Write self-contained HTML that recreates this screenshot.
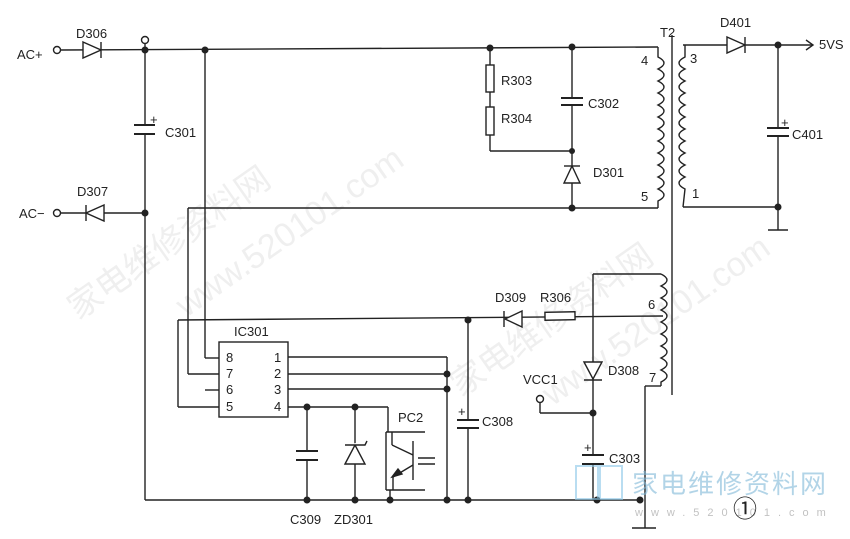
<!DOCTYPE html>
<html><head><meta charset="utf-8"><style>
html,body{margin:0;padding:0;background:#fff;}
svg{display:block;}
text{font-family:"Liberation Sans","Noto Sans CJK SC",sans-serif;fill:#222;font-size:13px;}
</style></head><body>
<svg width="850" height="539" viewBox="0 0 850 539" xmlns="http://www.w3.org/2000/svg">
<g opacity="0.13" font-size="34" transform="rotate(-35 250 200)">
<text x="40" y="200" style="font-size:34px;fill:#888">家电维修资料网</text>
<text x="130" y="260" style="font-size:34px;fill:#888">www.520101.com</text>
</g>
<g opacity="0.13" transform="rotate(-35 600 300)">
<text x="430" y="300" style="font-size:34px;fill:#888">家电维修资料网</text>
<text x="500" y="360" style="font-size:34px;fill:#888">www.520101.com</text>
</g>
<g stroke="#222" stroke-width="1.4" fill="none">
<line x1="61" y1="50" x2="658" y2="47"/>
<line x1="145" y1="44" x2="145" y2="500"/>
<line x1="205" y1="50" x2="205" y2="358"/><line x1="205" y1="358" x2="219" y2="358"/>
<line x1="188" y1="208" x2="658" y2="208"/>
<line x1="188" y1="208" x2="188" y2="374"/><line x1="188" y1="374" x2="219" y2="374"/>
<line x1="205" y1="390" x2="219" y2="390"/>
<line x1="178" y1="407" x2="219" y2="407"/><line x1="178" y1="407" x2="178" y2="320"/>
<line x1="178" y1="320" x2="663" y2="316"/>
<line x1="61" y1="213" x2="145" y2="213"/>
<line x1="145" y1="500" x2="640" y2="500"/>
<rect x="219" y="342" width="69" height="75"/>
<line x1="288" y1="357" x2="447" y2="357"/><line x1="447" y1="357" x2="447" y2="500"/>
<line x1="288" y1="374" x2="447" y2="374"/>
<line x1="288" y1="389" x2="447" y2="389"/>
<line x1="288" y1="407" x2="388" y2="407"/><line x1="388" y1="407" x2="388" y2="432"/>
<line x1="307" y1="407" x2="307" y2="500"/>
<line x1="355" y1="407" x2="355" y2="500"/>
<line x1="468" y1="320" x2="468" y2="500"/>
<line x1="386" y1="432" x2="425" y2="432"/><line x1="386" y1="432" x2="386" y2="490"/><line x1="386" y1="490" x2="425" y2="490"/>
<line x1="390" y1="490" x2="390" y2="500"/>
<line x1="413" y1="441" x2="413" y2="480"/>
<line x1="392" y1="445" x2="413" y2="455"/><line x1="392" y1="445" x2="392" y2="432"/>
<line x1="413" y1="465" x2="393" y2="477"/><line x1="393" y1="477" x2="393" y2="490"/>
<line x1="418" y1="458" x2="435" y2="458"/><line x1="418" y1="464" x2="435" y2="464"/>
<line x1="490" y1="48" x2="490" y2="151"/><line x1="490" y1="151" x2="572" y2="151"/>
<line x1="572" y1="47" x2="572" y2="208"/>
<line x1="593" y1="274" x2="661" y2="274"/><line x1="593" y1="274" x2="593" y2="500"/>
<line x1="540" y1="403" x2="540" y2="413"/><line x1="540" y1="413" x2="593" y2="413"/>
<line x1="661" y1="386" x2="645" y2="386"/><line x1="645" y1="386" x2="645" y2="528"/>
<line x1="632" y1="528" x2="656" y2="528"/>
<line x1="672" y1="35" x2="672" y2="395"/>
<line x1="683" y1="45" x2="812" y2="45"/>
<path d="M806 40 L813 45 L806 50"/>
<line x1="778" y1="45" x2="778" y2="230"/>
<line x1="683" y1="207" x2="778" y2="207"/>
<line x1="768" y1="230" x2="788" y2="230"/>
<path d="M658 47 L658 57 q12 6 0 12 q12 6 0 12 q12 6 0 12 q12 6 0 12 q12 6 0 12 q12 6 0 12 q12 6 0 12 q12 6 0 12 q12 6 0 12 q12 6 0 12 q12 6 0 12 q12 6 0 12 L658 208"/>
<path d="M685 45 L685 57 q-12 6 0 12 q-12 6 0 12 q-12 6 0 12 q-12 6 0 12 q-12 6 0 12 q-12 6 0 12 q-12 6 0 12 q-12 6 0 12 q-12 6 0 12 q-12 6 0 12 q-12 6 0 12 L683 207"/>
<path d="M661 274 q12 6 0 12 q12 6 0 12 q12 6 0 12 q12 6 0 12 q12 6 0 12 q12 6 0 12 q12 6 0 12 q12 6 0 12 q12 6 0 12 L661 386"/>
</g>
<g stroke="#222" stroke-width="1.4" fill="#fff">
<rect x="486" y="65" width="8" height="27"/>
<rect x="486" y="107" width="8" height="28"/>
<rect x="545" y="312" width="30" height="8" transform="rotate(-1 560 316)"/>
<circle cx="57" cy="50" r="3.5"/><circle cx="57" cy="213" r="3.5"/>
<circle cx="145" cy="40" r="3.5"/><circle cx="540" cy="399" r="3.5"/>
</g>
<g fill="#fff" stroke="none">
<rect x="135" y="124" width="20" height="11"/><rect x="562" y="97" width="20" height="9"/>
<rect x="768" y="127" width="20" height="10"/><rect x="458" y="420" width="20" height="8"/>
<rect x="297" y="451" width="20" height="9"/><rect x="583" y="454" width="20" height="10"/>
</g>
<g stroke="#222" stroke-width="2" fill="none">
<line x1="134" y1="125" x2="155" y2="125"/><line x1="134" y1="134" x2="155" y2="134"/>
<line x1="561" y1="98" x2="583" y2="98"/><line x1="561" y1="105" x2="583" y2="105"/>
<line x1="767" y1="128" x2="789" y2="128"/><line x1="767" y1="136" x2="789" y2="136"/>
<line x1="457" y1="420" x2="479" y2="420"/><line x1="457" y1="428" x2="479" y2="428"/>
<line x1="296" y1="451" x2="318" y2="451"/><line x1="296" y1="460" x2="318" y2="460"/>
<line x1="582" y1="455" x2="604" y2="455"/><line x1="582" y1="464" x2="604" y2="464"/>
</g>
<g stroke="#222" stroke-width="1.4" fill="#fff">
<path d="M83 42 L101 50 L83 58 Z"/><line x1="101" y1="42" x2="101" y2="58"/>
<path d="M104 205 L86 213 L104 221 Z"/><line x1="86" y1="205" x2="86" y2="221"/>
<path d="M727 37 L745 45 L727 53 Z"/><line x1="745" y1="37" x2="745" y2="53"/>
<path d="M564 183 L572 166 L580 183 Z"/><line x1="564" y1="166" x2="580" y2="166"/>
<path d="M522 311 L505 319 L522 327 Z"/><line x1="504" y1="311" x2="504" y2="327"/>
<path d="M584 362 L593 379 L602 362 Z"/><line x1="584" y1="380" x2="602" y2="380"/>
<path d="M345 464 L355 445 L365 464 Z"/><path d="M345 445 L365 445 L367 441"/>
<path d="M392 477 L402 474 L398 469 Z" fill="#222"/>
</g>
<g fill="#222">
<circle cx="145" cy="50" r="3.5"/><circle cx="205" cy="50" r="3.5"/><circle cx="145" cy="213" r="3.5"/>
<circle cx="490" cy="48" r="3.5"/><circle cx="572" cy="47" r="3.5"/><circle cx="572" cy="151" r="3"/><circle cx="572" cy="208" r="3.5"/>
<circle cx="778" cy="45" r="3.5"/><circle cx="778" cy="207" r="3.5"/>
<circle cx="468" cy="320" r="3.5"/><circle cx="447" cy="374" r="3.5"/><circle cx="447" cy="389" r="3.5"/>
<circle cx="307" cy="407" r="3.5"/><circle cx="355" cy="407" r="3.5"/>
<circle cx="307" cy="500" r="3.5"/><circle cx="355" cy="500" r="3.5"/><circle cx="390" cy="500" r="3.5"/>
<circle cx="447" cy="500" r="3.5"/><circle cx="468" cy="500" r="3.5"/><circle cx="597" cy="500" r="3.5"/><circle cx="640" cy="500" r="3.5"/>
<circle cx="593" cy="413" r="3.5"/>
</g>
<text x="17" y="59">AC+</text><text x="19" y="218">AC−</text>
<text x="76" y="38">D306</text><text x="77" y="196">D307</text>
<text x="165" y="137">C301</text><text x="150" y="124">+</text>
<text x="501" y="85">R303</text><text x="501" y="123">R304</text>
<text x="588" y="108">C302</text><text x="593" y="177">D301</text>
<text x="660" y="37">T2</text><text x="720" y="27">D401</text><text x="819" y="49">5VS</text>
<text x="792" y="139">C401</text><text x="781" y="127">+</text>
<text x="641" y="65">4</text><text x="641" y="201">5</text><text x="690" y="63">3</text><text x="692" y="198">1</text>
<text x="234" y="336">IC301</text>
<text x="226" y="362">8</text><text x="226" y="378">7</text><text x="226" y="394">6</text><text x="226" y="411">5</text>
<text x="274" y="362">1</text><text x="274" y="378">2</text><text x="274" y="394">3</text><text x="274" y="411">4</text>
<text x="398" y="422">PC2</text>
<text x="290" y="524">C309</text><text x="334" y="524">ZD301</text>
<text x="482" y="426">C308</text><text x="458" y="416">+</text>
<text x="495" y="302">D309</text><text x="540" y="302">R306</text>
<text x="648" y="309">6</text><text x="649" y="382">7</text>
<text x="608" y="375">D308</text><text x="523" y="384">VCC1</text>
<text x="609" y="463">C303</text><text x="584" y="452">+</text>
<g opacity="0.6">
<rect x="576" y="466" width="22" height="33" fill="none" stroke="#8cc8e8" stroke-width="2"/>
<rect x="600" y="466" width="22" height="33" fill="none" stroke="#8cc8e8" stroke-width="2"/>
<text x="632" y="493" style="font-size:26px;fill:#7fb8d8;letter-spacing:2px">家电维修资料网</text>
<text x="635" y="516" style="font-size:11px;fill:#999;letter-spacing:8px">www.520101.com</text>
</g>
<text x="733" y="517" style="font-size:24px">①</text>
</svg>
</body></html>
